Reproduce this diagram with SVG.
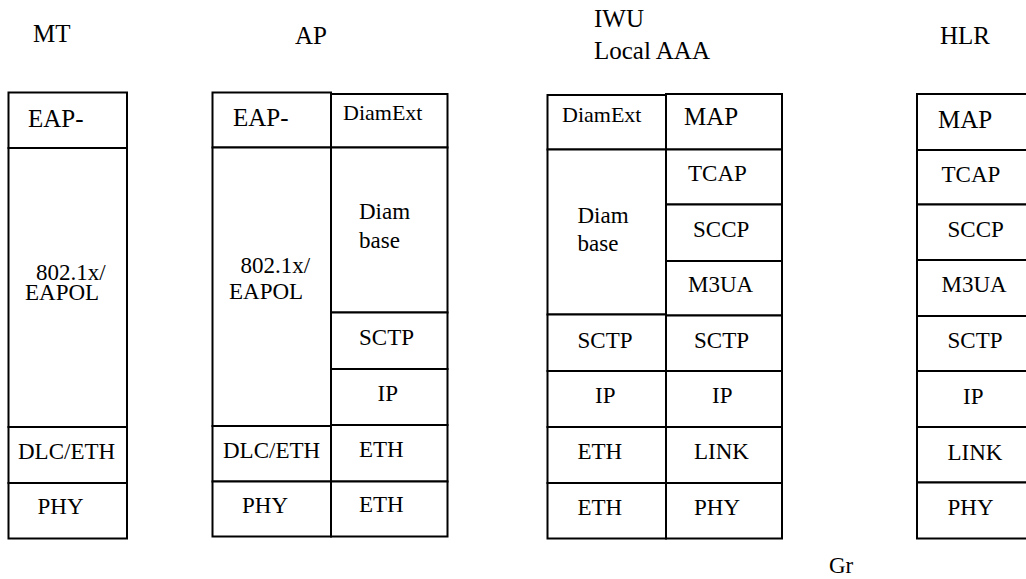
<svg xmlns="http://www.w3.org/2000/svg" width="1026" height="579" viewBox="0 0 1026 579">
  <style>
    .cell { fill: #fff; stroke: #000; stroke-width: 2; }
    .lbl { fill: #000; font-size: 23px; }
    .big { font-size: 25px; }
    .small { font-size: 22px; }
    .head { font-size: 25px; }
  </style>
  <rect width="1026" height="579" fill="#fff"/>

  <g font-family="Liberation Serif, DejaVu Serif, serif">
  <!-- Entity titles -->
  <g id="titles">
    <text class="lbl head" x="33" y="42">MT</text>
    <text class="lbl head" x="295" y="44">AP</text>
    <text class="lbl head" x="594" y="26.5">IWU</text>
    <text class="lbl head" x="594" y="58.5">Local AAA</text>
    <text class="lbl head" x="940" y="44">HLR</text>
    <text class="lbl" x="829" y="573">Gr</text>
  </g>

  <!-- MT protocol stack -->
  <g id="stack-mt">
    <rect class="cell" x="8.5" y="92.5" width="118.5" height="55.5"/>
    <rect class="cell" x="8.5" y="148" width="118.5" height="279"/>
    <rect class="cell" x="8.5" y="427" width="118.5" height="56"/>
    <rect class="cell" x="8.5" y="483" width="118.5" height="55.5"/>
    <text class="lbl big" x="28" y="126.5">EAP-</text>
    <text class="lbl" x="36" y="280">802.1x/</text>
    <text class="lbl" x="25" y="300">EAPOL</text>
    <text class="lbl" x="18" y="459">DLC/ETH</text>
    <text class="lbl" x="37.5" y="514">PHY</text>
  </g>

  <!-- AP protocol stack -->
  <g id="stack-ap">
    <rect class="cell" x="212.5" y="92.5" width="118.5" height="55"/>
    <rect class="cell" x="212.5" y="147.5" width="118.5" height="278.5"/>
    <rect class="cell" x="212.5" y="426" width="118.5" height="55.5"/>
    <rect class="cell" x="212.5" y="481.5" width="118.5" height="55"/>
    <rect class="cell" x="331" y="94" width="116.5" height="53.5"/>
    <rect class="cell" x="331" y="147.5" width="116.5" height="165"/>
    <rect class="cell" x="331" y="312.5" width="116.5" height="56.5"/>
    <rect class="cell" x="331" y="369" width="116.5" height="56"/>
    <rect class="cell" x="331" y="425" width="116.5" height="56.5"/>
    <rect class="cell" x="331" y="481.5" width="116.5" height="55"/>
    <text class="lbl big" x="233" y="125.5">EAP-</text>
    <text class="lbl small" x="343" y="120">DiamExt</text>
    <text class="lbl" x="240.5" y="273">802.1x/</text>
    <text class="lbl" x="229" y="299">EAPOL</text>
    <text class="lbl" x="359" y="219">Diam</text>
    <text class="lbl" x="359" y="247.5">base</text>
    <text class="lbl" x="359" y="345">SCTP</text>
    <text class="lbl" x="377.5" y="400.5">IP</text>
    <text class="lbl" x="359" y="456.5">ETH</text>
    <text class="lbl" x="359" y="512">ETH</text>
    <text class="lbl" x="223" y="457.5">DLC/ETH</text>
    <text class="lbl" x="242" y="513">PHY</text>
  </g>

  <!-- IWU / Local AAA protocol stack -->
  <g id="stack-iwu">
    <rect class="cell" x="547.5" y="95" width="118.5" height="54.5"/>
    <rect class="cell" x="547.5" y="149.5" width="118.5" height="165"/>
    <rect class="cell" x="547.5" y="314.5" width="118.5" height="56.5"/>
    <rect class="cell" x="547.5" y="371" width="118.5" height="56"/>
    <rect class="cell" x="547.5" y="427" width="118.5" height="56"/>
    <rect class="cell" x="547.5" y="483" width="118.5" height="55.5"/>
    <rect class="cell" x="666" y="94" width="116" height="55.5"/>
    <rect class="cell" x="666" y="149.5" width="116" height="55"/>
    <rect class="cell" x="666" y="204.5" width="116" height="56.5"/>
    <rect class="cell" x="666" y="261" width="116" height="54.5"/>
    <rect class="cell" x="666" y="315.5" width="116" height="55.5"/>
    <rect class="cell" x="666" y="371" width="116" height="56"/>
    <rect class="cell" x="666" y="427" width="116" height="56"/>
    <rect class="cell" x="666" y="483" width="116" height="55.5"/>
    <text class="lbl small" x="562" y="121.5">DiamExt</text>
    <text class="lbl" x="577.5" y="222.5">Diam</text>
    <text class="lbl" x="577.5" y="250.5">base</text>
    <text class="lbl" x="577.5" y="347.5">SCTP</text>
    <text class="lbl" x="595" y="403">IP</text>
    <text class="lbl" x="577.5" y="459">ETH</text>
    <text class="lbl" x="577.5" y="515">ETH</text>
    <text class="lbl big" x="684" y="125">MAP</text>
    <text class="lbl" x="688" y="180.5">TCAP</text>
    <text class="lbl" x="693" y="236.5">SCCP</text>
    <text class="lbl" x="688" y="292">M3UA</text>
    <text class="lbl" x="694" y="348">SCTP</text>
    <text class="lbl" x="712" y="403">IP</text>
    <text class="lbl" x="694" y="459">LINK</text>
    <text class="lbl" x="694" y="515">PHY</text>
  </g>

  <!-- HLR protocol stack -->
  <g id="stack-hlr">
    <rect class="cell" x="917" y="94" width="115" height="56"/>
    <rect class="cell" x="917" y="150" width="115" height="54.5"/>
    <rect class="cell" x="917" y="204.5" width="115" height="55.5"/>
    <rect class="cell" x="917" y="260" width="115" height="56"/>
    <rect class="cell" x="917" y="316" width="115" height="55"/>
    <rect class="cell" x="917" y="371" width="115" height="56"/>
    <rect class="cell" x="917" y="427" width="115" height="55.5"/>
    <rect class="cell" x="917" y="482.5" width="115" height="56"/>
    <text class="lbl big" x="938" y="128">MAP</text>
    <text class="lbl" x="941.5" y="181.5">TCAP</text>
    <text class="lbl" x="947.5" y="236.5">SCCP</text>
    <text class="lbl" x="941.5" y="292">M3UA</text>
    <text class="lbl" x="947.5" y="348">SCTP</text>
    <text class="lbl" x="963" y="404">IP</text>
    <text class="lbl" x="947.5" y="460">LINK</text>
    <text class="lbl" x="947.5" y="515">PHY</text>
  </g>
  </g>
</svg>
